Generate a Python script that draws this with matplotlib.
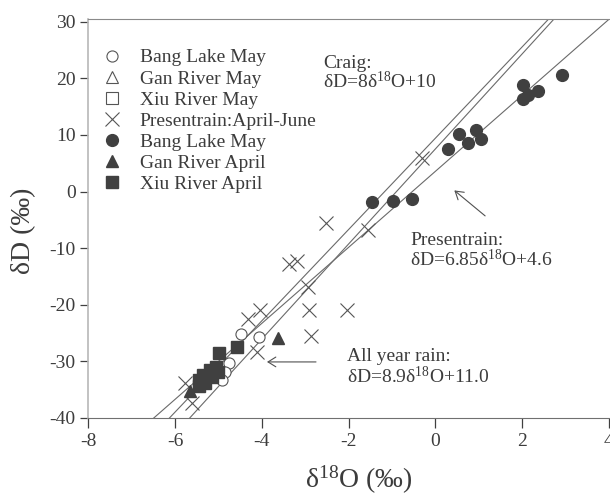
import matplotlib
matplotlib.use("Agg")
import matplotlib.pyplot as plt
import numpy as np

plt.rcParams['font.family'] = ['Liberation Serif', 'DejaVu Serif']
plt.rcParams['mathtext.fontset'] = 'custom'
plt.rcParams['mathtext.rm'] = 'Liberation Serif'
plt.rcParams['mathtext.it'] = 'Liberation Serif'
plt.rcParams['axes.unicode_minus'] = False

TXT = '#3c3c3c'
MARK = '#404040'

# Bang Lake May (open)
bang_open_x = [-4.49, -4.06, -4.75, -4.85, -4.92]
bang_open_y = [-25.2, -25.7, -30.2, -31.8, -33.3]

# Presentrain April-June (crosses)
rain_x = [-2.53, -3.37, -3.19, -2.93, -2.90, -2.04, -2.87, -4.04, -4.31,
          -4.10, -5.77, -5.62, -1.54, -0.31]
rain_y = [-5.6, -12.8, -12.2, -16.9, -21.0, -20.9, -25.6, -20.9, -22.5,
          -28.3, -33.9, -37.4, -6.8, 6.0]

# Bang Lake (filled)
bang_x = [2.93, 2.03, 2.38, 2.15, 2.03, 0.93, 0.55, 1.05, 0.75, 0.30,
          -0.97, -0.54, -1.47]
bang_y = [20.6, 18.8, 17.8, 17.1, 16.3, 10.8, 10.2, 9.2, 8.6, 7.6,
          -1.6, -1.4, -1.8]

# Gan River April (filled triangles)
gan_x = [-3.62, -5.65]
gan_y = [-25.8, -35.2]

# Xiu River April (filled squares)
xiu_x = [-4.58, -4.99, -5.05, -5.20, -5.35, -5.45, -5.30, -5.45, -5.15, -5.02]
xiu_y = [-27.4, -28.5, -31.0, -31.6, -32.4, -33.3, -33.8, -34.4, -32.8, -31.8]

# regression lines as drawn: slope, intercept
line_slopes = [8.06, 8.39, 6.71]
line_icepts = [9.4, 7.5, 3.55]

fig = plt.figure(figsize=(6.1, 4.97), dpi=100)
ax = fig.add_axes([0.1448, 0.159, 0.8531, 0.803])

xx = np.array([-8, 4])
for m, b in zip(line_slopes, line_icepts):
    ax.plot(xx, m * xx + b, color='#6a6a6a', lw=0.8, zorder=1)

ax.plot(bang_open_x, bang_open_y, 'o', ms=8, mfc='white', mec='#555555',
        mew=0.8, label='Bang Lake May', zorder=3)
ax.plot([], [], '^', ms=8, mfc='white', mec='#555555', mew=0.8,
        label='Gan River May')
ax.plot([], [], 's', ms=8, mfc='white', mec='#555555', mew=0.8,
        label='Xiu River May')
ax.plot(rain_x, rain_y, 'x', ms=9.5, color='#555555', mew=0.8,
        label='Presentrain:April-June', zorder=2)
ax.plot(bang_x, bang_y, 'o', ms=8.5, color=MARK, label='Bang Lake May',
        zorder=4)
ax.plot(gan_x, gan_y, '^', ms=9, color=MARK, label='Gan River April',
        zorder=4)
ax.plot(xiu_x, xiu_y, 's', ms=9.3, color=MARK, label='Xiu River April',
        zorder=4)

leg = ax.legend(loc='upper left', bbox_to_anchor=(0.026, 0.925),
                frameon=False, fontsize=14, handlelength=1.0,
                handletextpad=0.95, labelspacing=0.18, borderpad=0,
                borderaxespad=0, numpoints=1)
for t in leg.get_texts():
    t.set_color(TXT)

# annotations
ax.text(-2.58, 21.9, 'Craig:', fontsize=14, color=TXT)
ax.text(-2.58, 18.3, r'δD=8δ$^{\mathrm{18}}$O+10', fontsize=14, color=TXT)
ax.text(-0.58, -9.4, 'Presentrain:', fontsize=14, color=TXT)
ax.text(-0.58, -13.1, r'δD=6.85δ$^{\mathrm{18}}$O+4.6', fontsize=14, color=TXT)
ax.text(-2.04, -30.0, 'All year rain:', fontsize=14, color=TXT)
ax.text(-2.04, -33.9, r'δD=8.9δ$^{\mathrm{18}}$O+11.0', fontsize=14, color=TXT)

arrow = dict(arrowstyle='->,head_length=0.4,head_width=0.25',
             color='#505050', lw=0.8, shrinkA=0, shrinkB=0,
             mutation_scale=14)
ax.annotate('', xy=(0.44, 0.2), xytext=(1.15, -4.3), arrowprops=arrow)
ax.annotate('', xy=(-3.88, -30.1), xytext=(-2.75, -30.1), arrowprops=arrow)

ax.set_xlim(-8, 4)
ax.set_ylim(-40, 30.5)
ax.set_xticks([-8, -6, -4, -2, 0, 2, 4])
ax.set_yticks([-40, -30, -20, -10, 0, 10, 20, 30])

ax.spines['right'].set_visible(False)
ax.spines['left'].set_color('#b8b8b8')
ax.spines['left'].set_linewidth(1.2)
ax.spines['bottom'].set_color('#707070')
ax.spines['top'].set_color('#8a8a8a')
ax.tick_params(axis='x', direction='out', length=7, width=0.9,
               color='#404040', labelsize=14, labelcolor=TXT, pad=4)
ax.tick_params(axis='y', direction='out', length=6, width=0.9,
               color='#404040', labelsize=14, labelcolor=TXT, pad=3)

ax.set_xlabel(r'δ$^{\mathrm{18}}$O (‰)', fontsize=20, color=TXT)
ax.set_ylabel('δD (‰)', fontsize=20, color=TXT)
ax.xaxis.set_label_coords(0.52, -0.115)
ax.yaxis.set_label_coords(-0.10, 0.47)

fig.savefig('out.png', dpi=100)
